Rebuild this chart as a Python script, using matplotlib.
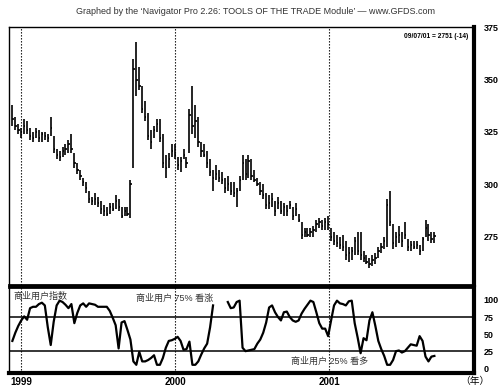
import numpy as np
import pandas as pd
import matplotlib
matplotlib.use("Agg")
import matplotlib.pyplot as plt

plt.rcParams['font.family'] = ['Liberation Sans', 'Noto Sans CJK SC', 'DejaVu Sans']

# weekly bars, 1998-12-11 .. 2001-09-07
dates = pd.date_range('1998-12-11', periods=144, freq='7D')

high = [338, 332, 329, 327, 331, 330, 327, 325, 327, 326, 325, 325, 324, 332, 323, 317,
        316, 318, 319, 321, 324, 315, 310, 307, 303, 301, 297, 294, 296, 294, 292, 290,
        289, 291, 291, 295, 293, 289, 289, 289, 302, 360, 368, 356, 347, 340, 334, 326,
        328, 331, 331, 324, 314, 315, 319, 319, 313, 313, 317, 313, 336, 347, 338, 332,
        320, 319, 316, 312, 307, 309, 307, 306, 303, 304, 301, 301, 298, 304, 314, 312,
        314, 312, 307, 303, 301, 300, 296, 295, 296, 292, 294, 292, 291, 290, 292, 289,
        291, 286, 282, 279, 279, 279, 280, 283, 284, 283, 284, 285, 279, 277, 276, 275,
        276, 273, 270, 270, 275, 277, 277, 268, 266, 265, 266, 267, 270, 272, 275, 293,
        297, 281, 277, 280, 277, 282, 274, 273, 273, 273, 271, 275, 283, 281, 277, 277]
low = [328, 326, 324, 322, 324, 324, 321, 320, 322, 320, 320, 321, 320, 323, 315, 312,
       311, 313, 314, 315, 315, 308, 305, 302, 299, 296, 291, 290, 290, 289, 286, 285,
       285, 286, 287, 288, 287, 284, 285, 285, 284, 308, 342, 345, 334, 330, 321, 317,
       322, 325, 320, 308, 303, 308, 313, 312, 307, 306, 312, 308, 315, 324, 322, 318,
       313, 313, 308, 304, 297, 302, 301, 300, 296, 297, 295, 294, 289, 297, 302, 302,
       303, 302, 301, 299, 295, 293, 288, 288, 289, 285, 288, 286, 285, 285, 288, 283,
       285, 282, 274, 275, 275, 275, 275, 277, 279, 278, 278, 278, 273, 271, 270, 269,
       268, 264, 263, 264, 266, 266, 264, 263, 262, 260, 261, 262, 265, 267, 269, 270,
       280, 269, 270, 272, 270, 274, 268, 268, 269, 269, 266, 268, 275, 273, 272, 272]
close = [331, 328, 326, 325, 328, 326, 323, 322, 325, 322, 324, 323, 322, 327, 317, 314,
         313, 316, 317, 319, 317, 310, 307, 304, 301, 298, 293, 292, 293, 291, 288, 287,
         286, 289, 288, 292, 289, 285, 287, 286, 300, 355, 350, 347, 336, 332, 323, 320,
         326, 329, 322, 310, 308, 312, 316, 314, 309, 311, 314, 310, 333, 328, 330, 320,
         316, 314, 310, 306, 303, 305, 303, 302, 298, 300, 297, 296, 297, 302, 310, 305,
         311, 304, 302, 300, 297, 295, 290, 291, 293, 287, 291, 287, 289, 287, 290, 285,
         288, 283, 276, 277, 276, 277, 278, 281, 282, 280, 282, 281, 275, 273, 272, 271,
         270, 266, 267, 268, 273, 268, 266, 265, 263, 262, 264, 265, 268, 270, 273, 290,
         282, 272, 275, 276, 273, 276, 270, 271, 270, 271, 268, 274, 279, 276, 274, 275.1]

nan = np.nan
commercial = [40, 52, 62, 70, 76, 71, 88, 90, 90, 94, 96, 92, 60, 34, 68, 92,
              99, 97, 93, 88, 94, 66, 81, 92, 95, 90, 95, 94, 93, 90, 90, 90,
              90, 84, 74, 63, 29, 67, 69, 56, 42, 10, 5, 24, 10, 10, 12, 15,
              19, 5, 5, 15, 30, 40, 41, 43, 46, 40, 27, 28, 39, 5, 5, 10,
              20, 29, 36, 60, 92, nan, nan, nan, nan, 97, 88, 89, 97, 99, 30, 25,
              26, 27, 28, 36, 42, 52, 67, 89, 92, 82, 75, 70, 82, 83, 75, 70,
              68, 70, 80, 87, 93, 99, 97, 82, 66, 58, 58, 47, 70, 92, 99, 95,
              94, 92, 98, 99, 66, 45, 22, 44, 41, 70, 82, 62, 40, 28, 18, 5,
              5, 12, 25, 26, 23, 25, 30, 35, 34, 33, 47, 40, 17, 10, 17, 18]

year_lines = ['1999-01-01', '2000-01-01', '2001-01-01']
year_labels = ['1999', '2000', '2001']

fig = plt.figure(figsize=(5.01, 3.88), dpi=100)
ax = fig.add_axes([9 / 501, 1 - 285 / 388, 465 / 501, 258 / 388])
ax2 = fig.add_axes([9 / 501, 1 - 373 / 388, 465 / 501, 86 / 388])

xmin = pd.Timestamp('1998-12-03')
xmax = pd.Timestamp('2001-12-10')
tick = pd.Timedelta(days=3)

# price bars
ax.vlines(dates, low, high, color='black', lw=1.2)
ax.hlines(close, dates, dates + tick, color='black', lw=1.2)
ax.set_xlim(xmin, xmax)
ax.set_ylim(251.9, 375.1)
ax.yaxis.tick_right()
ax.set_yticks([275, 300, 325, 350, 375])
ax.tick_params(axis='y', length=0, pad=7, labelsize=6.5)
for t in ax.get_yticklabels():
    t.set_fontweight('bold')
ax.set_xticks([])
ax.text(0.987, 0.962, '09/07/01 = 2751 (-14)', transform=ax.transAxes,
        ha='right', va='center', fontsize=4.8, fontweight='bold')

# commercial index
ax2.plot(dates, commercial, color='black', lw=1.6)
ax2.axhline(75, color='black', lw=1.1)
ax2.axhline(25, color='black', lw=1.1)
ax2.set_xlim(xmin, xmax)
ax2.set_ylim(-7, 119)
ax2.yaxis.tick_right()
ax2.set_yticks([0, 25, 50, 75, 100])
ax2.tick_params(axis='y', length=0, pad=7, labelsize=6.5)
for t in ax2.get_yticklabels():
    t.set_fontweight('bold')
ax2.set_xticks(pd.to_datetime(year_lines))
ax2.set_xticklabels(year_labels, fontsize=7, fontweight='bold')
ax2.tick_params(axis='x', length=0, pad=3)

for d in year_lines:
    ax.axvline(pd.Timestamp(d), color='black', lw=0.8, ls=(0, (1.2, 1.5)))
    ax2.axvline(pd.Timestamp(d), color='black', lw=0.8, ls=(0, (1.2, 1.5)))

ax2.text(0.009, 106, '商业用户指数', transform=ax2.get_yaxis_transform(),
         fontsize=6.5, color='#333333', va='center')
ax2.text(0.273, 103, '商业用户 75% 看涨', transform=ax2.get_yaxis_transform(),
         fontsize=6.5, color='#333333', va='center')
ax2.text(0.606, 10, '商业用户 25% 看多', transform=ax2.get_yaxis_transform(),
         fontsize=6.5, color='#333333', va='center')
fig.text(475 / 501, 1 - 381 / 388, '（年）', fontsize=7, ha='center', va='center')

for a in (ax, ax2):
    a.spines['left'].set_linewidth(1.0)
    a.spines['right'].set_linewidth(3.0)
ax.spines['top'].set_linewidth(1.0)
ax.spines['bottom'].set_linewidth(2.0)
ax2.spines['top'].set_linewidth(2.0)
ax2.spines['bottom'].set_linewidth(3.0)

fig.text(0.509, 1 - 12 / 388,
         "Graphed by the \u2018Navigator Pro 2.26: TOOLS OF THE TRADE Module\u2019 \u2014 www.GFDS.com",
         ha='center', va='center', fontsize=6.5, color='#333333')

fig.savefig('out.png', dpi=100)
